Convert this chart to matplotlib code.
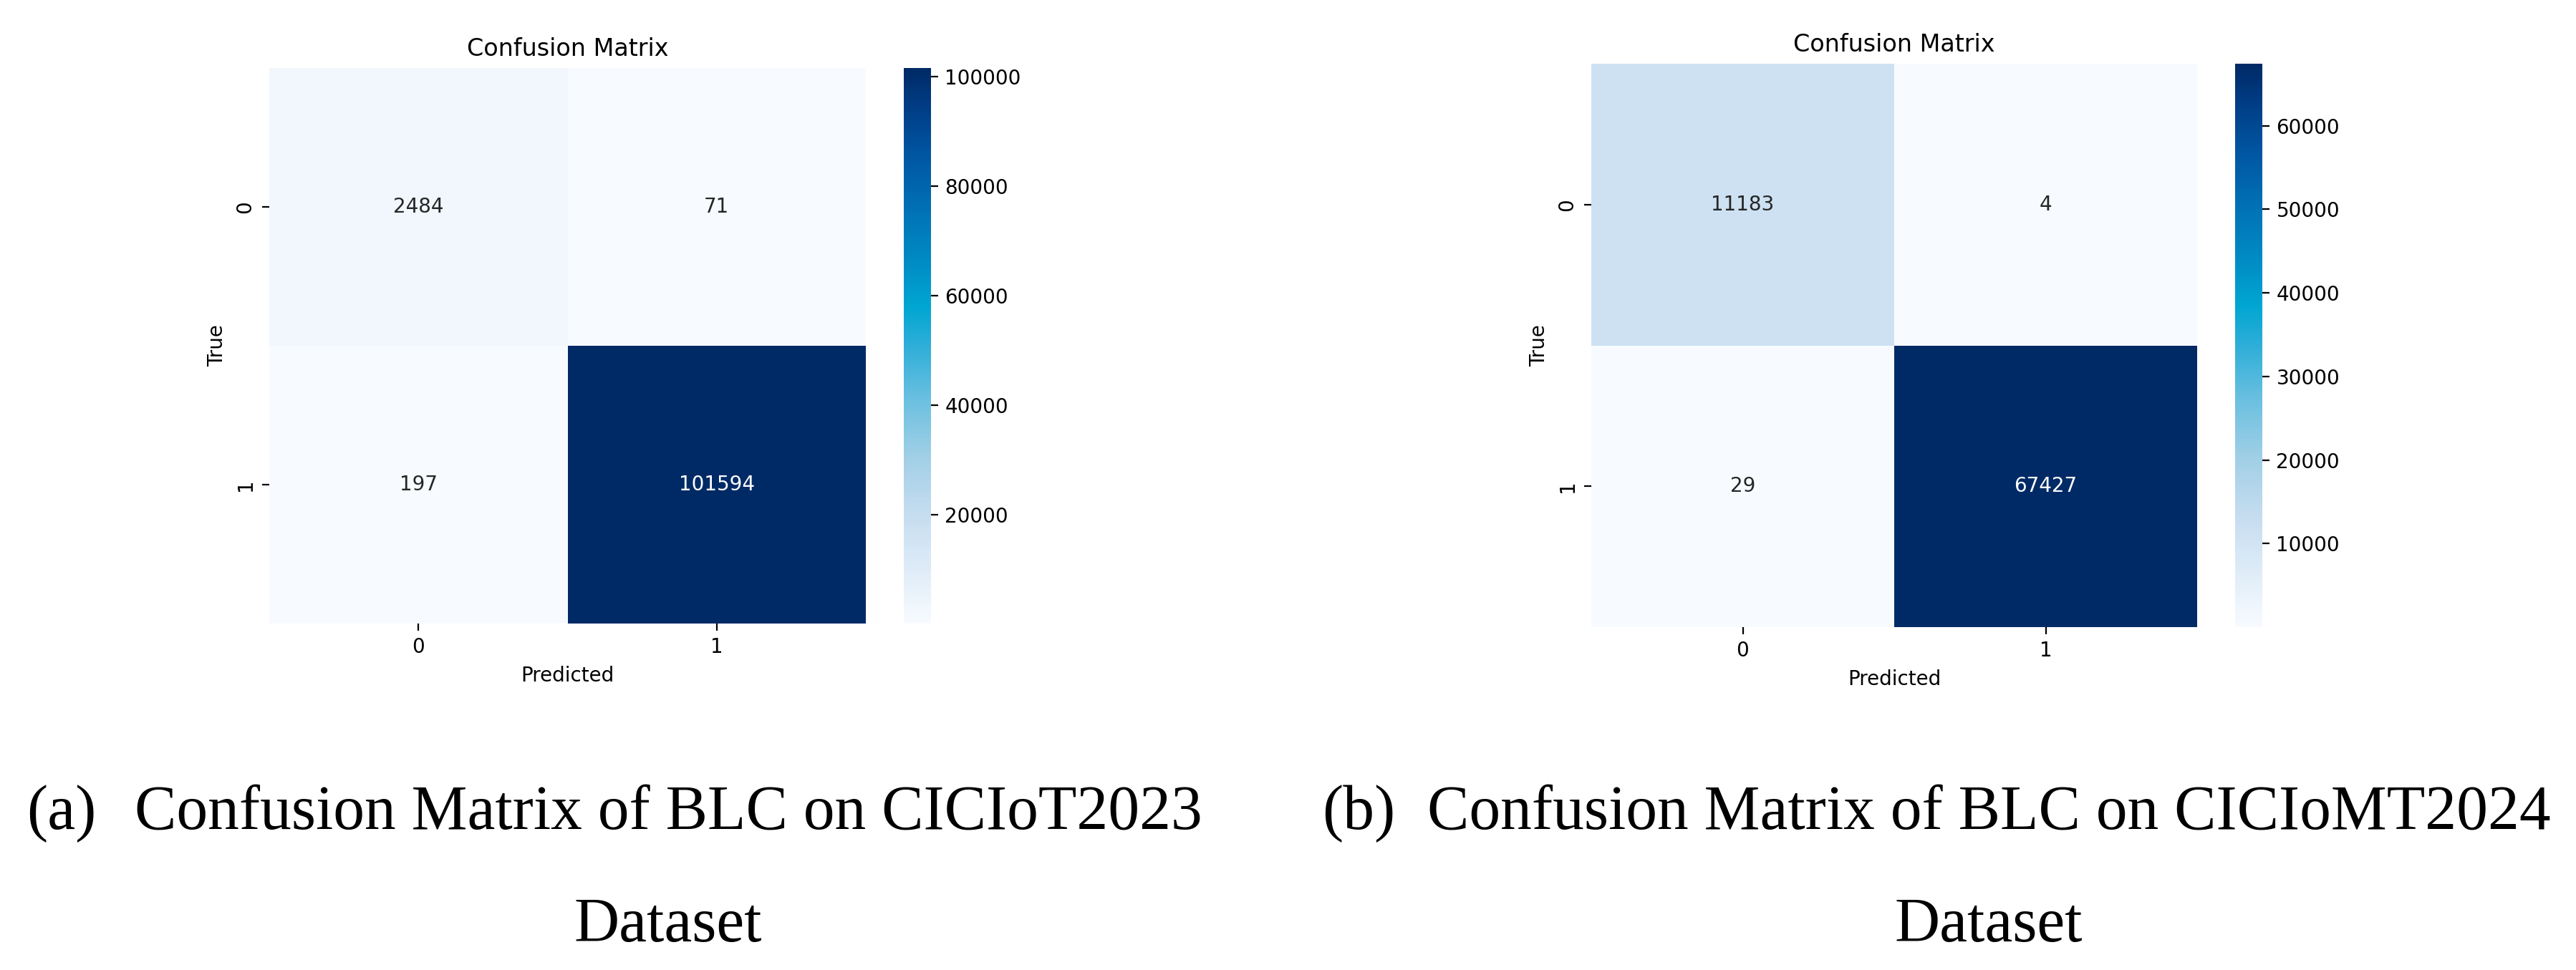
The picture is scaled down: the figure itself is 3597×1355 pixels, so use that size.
import numpy as np
import matplotlib
matplotlib.use("Agg")
import matplotlib.pyplot as plt
from matplotlib.colors import LinearSegmentedColormap
import seaborn as sns

# confusion matrices
labels = ["0", "1"]
cm_iot2023 = np.array([[2484, 71],
                       [197, 101594]])
cm_iomt2024 = np.array([[11183, 4],
                        [29, 67427]])

captions = ["Confusion Matrix of BLC on CICIoT2023",
            "Confusion Matrix of BLC on CICIoMT2024"]
tags = ["(a)", "(b)"]

# the reference "Blues" looks saturation-boosted (cyan middle), so rebuild it
blues_stops = [0.0, 0.1, 0.2, 0.3, 0.4, 0.5, 0.57, 0.65, 0.75, 0.85, 0.93, 1.0]
blues_cols = ["#f7fbff", "#deebf7", "#c4dcef", "#a0cfe6", "#6cc0e0", "#2eaed8",
              "#00a6d2", "#008cc4", "#0070b4", "#0054a0", "#003d86", "#002a66"]
cmap = LinearSegmentedColormap.from_list("blues_sat", list(zip(blues_stops, blues_cols)))

plt.rcParams["font.family"] = "DejaVu Sans"
plt.rcParams["font.size"] = 20
plt.rcParams["axes.titlesize"] = 24
plt.rcParams["axes.labelsize"] = 20
plt.rcParams["axes.labelpad"] = 8
plt.rcParams["axes.titlepad"] = 12
for a in ["xtick", "ytick"]:
    plt.rcParams[a + ".major.size"] = 7
    plt.rcParams[a + ".major.width"] = 1.6
    plt.rcParams[a + ".major.pad"] = 7
    plt.rcParams[a + ".labelsize"] = 20

W, H = 3598, 1355
fig = plt.figure(figsize=(W / 100, H / 100), dpi=100)


def frac(x0, y0, x1, y1):
    # pixel box -> figure fraction [left, bottom, width, height]
    return [x0 / W, 1 - y1 / H, (x1 - x0) / W, (y1 - y0) / H]


panels = [
    (cm_iot2023, frac(376, 95, 1209, 871), frac(1262, 95, 1300, 871)),
    (cm_iomt2024, frac(2222, 89, 3068, 876), frac(3121, 89, 3159, 876)),
]

for cm, box, cbox in panels:
    ax = fig.add_axes(box)
    cax = fig.add_axes(cbox)
    sns.heatmap(cm, annot=True, fmt="d", cmap=cmap, ax=ax, cbar_ax=cax,
                xticklabels=labels, yticklabels=labels,
                annot_kws={"fontsize": 20})
    ax.set_title("Confusion Matrix")
    ax.set_xlabel("Predicted")
    ax.set_ylabel("True")
    plt.setp(ax.get_yticklabels(), rotation=90, va="center")
    cax.tick_params(labelsize=20, length=7, width=1.6, pad=7)

# captions below each panel
serif = "Liberation Serif"
cap_pos = [(37, 933), (1846, 2777)]
for (tag_x, body_x), tag, text in zip(cap_pos, tags, captions):
    fig.text(tag_x / W, 1 - 1158 / H, tag, family=serif, fontsize=63,
             ha="left", va="baseline")
    fig.text(body_x / W, 1 - 1158 / H, text, family=serif, fontsize=63,
             ha="center", va="baseline")
    fig.text(body_x / W, 1 - 1315 / H, "Dataset", family=serif, fontsize=63,
             ha="center", va="baseline")

fig.savefig("out.png", dpi=100, facecolor="white")
